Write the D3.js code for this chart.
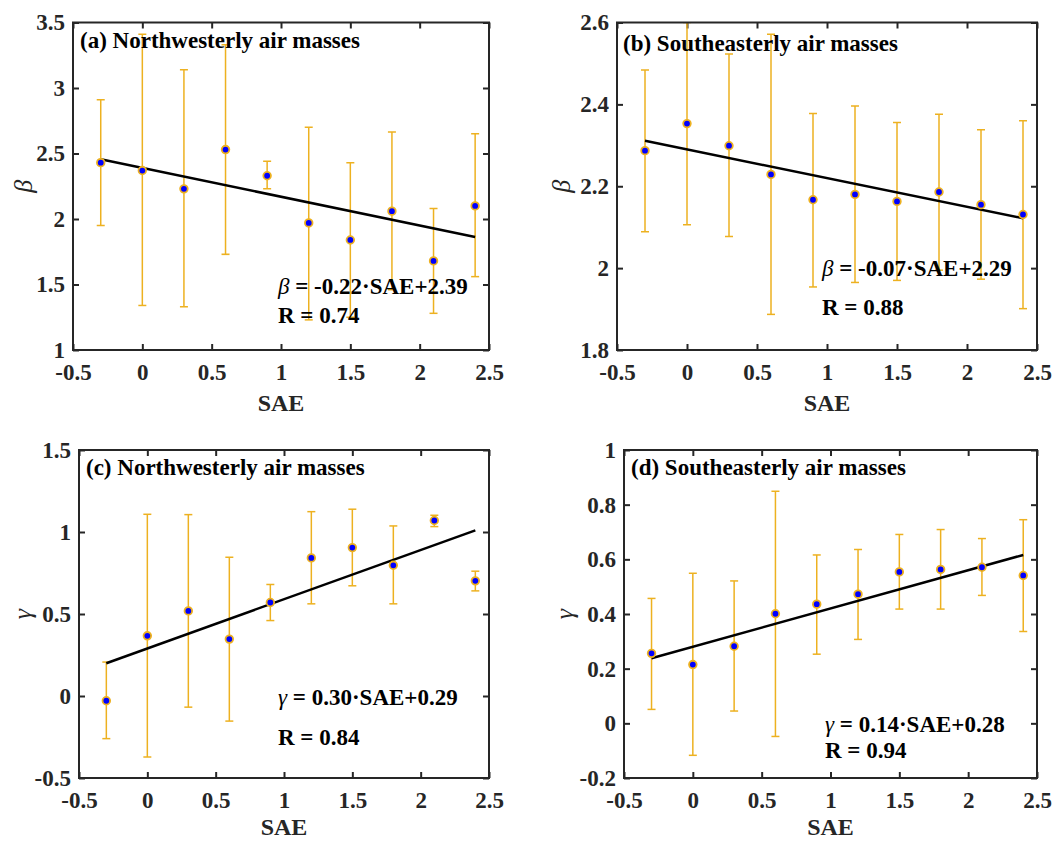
<!DOCTYPE html>
<html>
<head>
<meta charset="utf-8">
<script src="https://cdn.jsdelivr.net/npm/d3@7"></script>
<style>
  html, body { margin: 0; padding: 0; background: #fff; }
  svg { display: block; }
  svg text { font-family: "Liberation Serif", "Times New Roman", serif; }
</style>
</head>
<body>
<svg id="chart" width="1055" height="841"></svg>
<script>
// SAE bins shared by all panels
const sae = [-0.3, 0, 0.3, 0.6, 0.9, 1.2, 1.5, 1.8, 2.1, 2.4];

// (a) beta, northwesterly air masses: mean, lower and upper error limits
const betaNW   = [2.43, 2.37, 2.23, 2.53, 2.33, 1.97, 1.84, 2.06, 1.68, 2.10];
const betaNWLo = [1.95, 1.34, 1.33, 1.73, 2.23, 1.23, 1.25, 1.46, 1.28, 1.56];
const betaNWHi = [2.91, 3.41, 3.14, 3.33, 2.44, 2.70, 2.43, 2.665, 2.08, 2.65];

// (b) beta, southeasterly air masses
const betaSE   = [2.287, 2.353, 2.299, 2.229, 2.167, 2.180, 2.163, 2.186, 2.155, 2.131];
const betaSELo = [2.089, 2.106, 2.077, 1.887, 1.954, 1.965, 1.970, 1.995, 1.973, 1.901];
const betaSEHi = [2.484, 2.600, 2.523, 2.571, 2.378, 2.396, 2.356, 2.376, 2.338, 2.360];

// (c) gamma, northwesterly air masses
const gammaNW   = [-0.029, 0.367, 0.519, 0.347, 0.570, 0.842, 0.905, 0.797, 1.070, 0.702];
const gammaNWLo = [-0.260, -0.372, -0.068, -0.153, 0.460, 0.562, 0.672, 0.562, 1.033, 0.641];
const gammaNWHi = [0.207, 1.108, 1.106, 0.846, 0.680, 1.124, 1.139, 1.037, 1.102, 0.761];

// (d) gamma, southeasterly air masses
const gammaSE   = [0.256, 0.215, 0.282, 0.401, 0.436, 0.4725, 0.554, 0.563, 0.571, 0.541];
const gammaSELo = [0.051, -0.117, 0.045, -0.048, 0.253, 0.307, 0.418, 0.418, 0.468, 0.336];
const gammaSEHi = [0.457, 0.549, 0.521, 0.849, 0.616, 0.636, 0.691, 0.709, 0.676, 0.745];

// Linear fits (slope, intercept) and correlation for each panel
const fitSlope     = [-0.22, -0.07, 0.30, 0.14];
const fitIntercept = [2.39, 2.29, 0.29, 0.28];
const fitR         = ["0.74", "0.88", "0.84", "0.94"];

// Axis ranges and tick labels
const xTicks = [-0.5, 0, 0.5, 1, 1.5, 2, 2.5];
const yDomains = [[1, 3.5], [1.8, 2.6], [-0.5, 1.5], [-0.2, 1]];
const yTicks = [
  [1, 1.5, 2, 2.5, 3, 3.5],
  [1.8, 2, 2.2, 2.4, 2.6],
  [-0.5, 0, 0.5, 1, 1.5],
  [-0.2, 0, 0.2, 0.4, 0.6, 0.8, 1]
];
const titles = [
  "(a) Northwesterly air masses",
  "(b) Southeasterly air masses",
  "(c) Northwesterly air masses",
  "(d) Southeasterly air masses"
];
const yLabels = ["\u03B2", "\u03B2", "\u03B3", "\u03B3"];

const panelsData = [
  { mean: betaNW, lo: betaNWLo, hi: betaNWHi },
  { mean: betaSE, lo: betaSELo, hi: betaSEHi },
  { mean: gammaNW, lo: gammaNWLo, hi: gammaNWHi },
  { mean: gammaSE, lo: gammaSELo, hi: gammaSEHi }
];

// Layout of the four axes boxes and their annotation anchors
const layout = [
  { left: 73,  right: 489,  top: 22.5, bottom: 350, ylabX: 32,  eqX: 278, eqY: 294, rY: 323, titleX: 80,  titleY: 48,  xlabY: 411 },
  { left: 617, right: 1037, top: 22.5, bottom: 350, ylabX: 570, eqX: 822, eqY: 276, rY: 315, titleX: 623, titleY: 51,  xlabY: 411 },
  { left: 79,  right: 489,  top: 450,  bottom: 778, ylabX: 31,  eqX: 278, eqY: 705, rY: 745, titleX: 86,  titleY: 475, xlabY: 835 },
  { left: 624, right: 1037, top: 450,  bottom: 778, ylabX: 573, eqX: 825, eqY: 732, rY: 758, titleX: 631, titleY: 475, xlabY: 835 }
];

const axisColor = "#262626";
const errColor = "#EDB120";
const markColor = "#0000FF";
const serif = '"Liberation Serif", "Times New Roman", serif';
const fmt = d => String(d);

const svg = d3.select("#chart");

layout.forEach((L, i) => {
  const D = panelsData[i];
  const x = d3.scaleLinear().domain([-0.5, 2.5]).range([L.left, L.right]);
  const y = d3.scaleLinear().domain(yDomains[i]).range([L.bottom, L.top]);
  const g = svg.append("g");

  const clipId = "clip" + i;
  svg.append("clipPath").attr("id", clipId)
    .append("rect")
    .attr("x", L.left).attr("y", L.top)
    .attr("width", L.right - L.left).attr("height", L.bottom - L.top);

  // Axes with inward ticks on all four sides
  const tk = 6;
  const axes = [
    g.append("g").attr("transform", `translate(0,${L.bottom})`)
      .call(d3.axisBottom(x).tickValues(xTicks).tickFormat(fmt).tickSizeInner(-tk).tickSizeOuter(0).tickPadding(14)),
    g.append("g").attr("transform", `translate(0,${L.top})`)
      .call(d3.axisTop(x).tickValues(xTicks).tickFormat("").tickSizeInner(-tk).tickSizeOuter(0)),
    g.append("g").attr("transform", `translate(${L.left},0)`)
      .call(d3.axisLeft(y).tickValues(yTicks[i]).tickFormat(fmt).tickSizeInner(-tk).tickSizeOuter(0).tickPadding(8)),
    g.append("g").attr("transform", `translate(${L.right},0)`)
      .call(d3.axisRight(y).tickValues(yTicks[i]).tickFormat("").tickSizeInner(-tk).tickSizeOuter(0))
  ];
  axes.forEach(a => {
    a.attr("font-family", null).attr("font-size", null);
    a.select(".domain").remove();
    a.selectAll(".tick line").attr("stroke", axisColor).attr("stroke-width", 2);
    a.selectAll(".tick text")
      .attr("fill", axisColor)
      .style("font-family", serif)
      .style("font-size", "23px")
      .style("font-weight", "bold");
  });

  // Error bars
  const eb = g.append("g").attr("clip-path", `url(#${clipId})`)
    .attr("stroke", errColor).attr("stroke-width", 1.5);
  sae.forEach((s, k) => {
    const cx = x(s);
    eb.append("line").attr("x1", cx).attr("x2", cx).attr("y1", y(D.lo[k])).attr("y2", y(D.hi[k]));
    eb.append("line").attr("x1", cx - 4).attr("x2", cx + 4).attr("y1", y(D.lo[k])).attr("y2", y(D.lo[k]));
    eb.append("line").attr("x1", cx - 4).attr("x2", cx + 4).attr("y1", y(D.hi[k])).attr("y2", y(D.hi[k]));
  });

  // Linear fit across the SAE range
  const x0 = sae[0], x1 = sae[sae.length - 1];
  const fitLine = d3.line().x(d => x(d[0])).y(d => y(d[1]));
  g.append("path")
    .datum([[x0, fitSlope[i] * x0 + fitIntercept[i]], [x1, fitSlope[i] * x1 + fitIntercept[i]]])
    .attr("d", fitLine)
    .attr("fill", "none").attr("stroke", "#000").attr("stroke-width", 2.5);

  // Mean markers
  g.append("g").selectAll("circle").data(sae).join("circle")
    .attr("cx", d => x(d))
    .attr("cy", (d, k) => y(D.mean[k]))
    .attr("r", 3.8)
    .attr("fill", markColor)
    .attr("stroke", errColor)
    .attr("stroke-width", 1.8);

  // Axes box
  g.append("rect")
    .attr("x", L.left).attr("y", L.top)
    .attr("width", L.right - L.left).attr("height", L.bottom - L.top)
    .attr("fill", "none").attr("stroke", axisColor).attr("stroke-width", 2);

  // Panel title
  g.append("text")
    .attr("x", L.titleX).attr("y", L.titleY)
    .style("font-size", "23px").style("font-weight", "bold")
    .attr("fill", "#000")
    .text(titles[i]);

  // Fit equation and correlation
  const sym = yLabels[i];
  const slopeTxt = fitSlope[i].toFixed(2);
  const eq = g.append("text")
    .attr("x", L.eqX).attr("y", L.eqY)
    .style("font-size", "23px").attr("fill", "#000");
  eq.append("tspan").style("font-style", "italic").text(sym);
  eq.append("tspan").style("font-weight", "bold")
    .text(" = " + slopeTxt + "\u00B7SAE+" + fitIntercept[i].toFixed(2));
  g.append("text")
    .attr("x", L.eqX).attr("y", L.rY)
    .style("font-size", "23px").style("font-weight", "bold").attr("fill", "#000")
    .text("R = " + fitR[i]);

  // Axis labels
  g.append("text")
    .attr("x", (L.left + L.right) / 2).attr("y", L.xlabY)
    .attr("text-anchor", "middle")
    .style("font-size", "24px").style("font-weight", "bold").attr("fill", axisColor)
    .text("SAE");
  const ym = (L.top + L.bottom) / 2;
  g.append("text")
    .attr("transform", `translate(${L.ylabX},${ym}) rotate(-90)`)
    .attr("text-anchor", "middle")
    .style("font-size", "26px").style("font-style", "italic").attr("fill", axisColor)
    .text(yLabels[i]);
});
</script>
</body>
</html>
